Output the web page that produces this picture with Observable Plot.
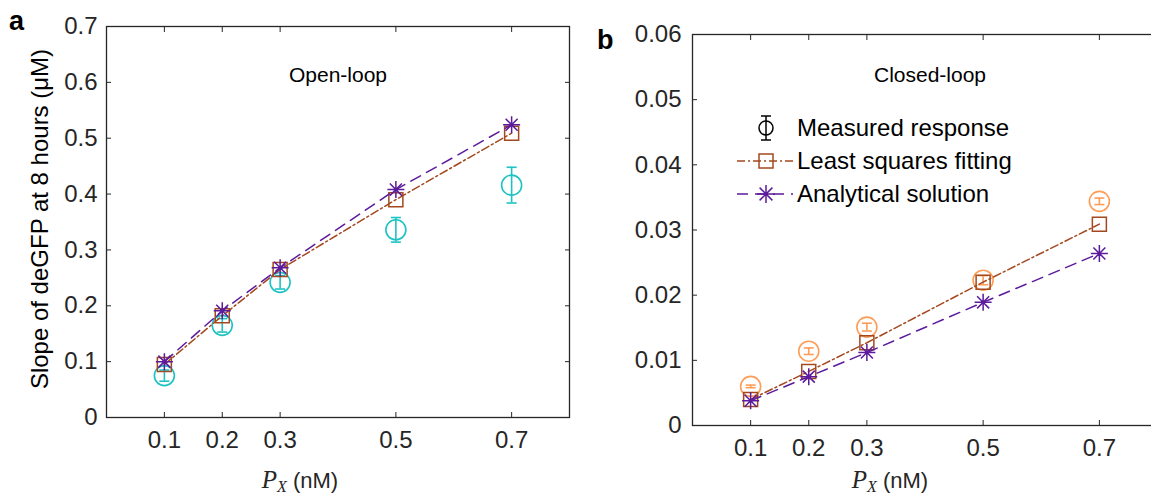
<!DOCTYPE html>
<html><head><meta charset="utf-8">
<script src="https://cdn.jsdelivr.net/npm/d3@7"></script>
<script src="https://cdn.jsdelivr.net/npm/@observablehq/plot@0.6"></script>
<style>
body{margin:0;background:#fff;}
#fig{position:relative;width:1151px;height:495px;overflow:hidden;font-family:"Liberation Sans",Arial,sans-serif;color:#262626}
#fig svg{position:absolute;top:0}
.abs{position:absolute;white-space:nowrap}
.xl{font-size:22px;text-align:center;width:200px}
.xl .p{font-family:"Liberation Serif","DejaVu Serif",serif;font-style:italic;font-size:25px}
.xl sub{font-family:"Liberation Serif","DejaVu Serif",serif;font-style:italic;font-size:16px;vertical-align:-4px}
.lab{font-weight:bold;font-size:27px;color:#000;line-height:1}
.leg{font-size:24px;color:#000}
</style></head><body><div id="fig"></div>
<script>
// ---- data ----
const px = [0.1, 0.2, 0.3, 0.5, 0.7];
const xTicks = [0.1, 0.2, 0.3, 0.5, 0.7];
const openMeasured = [0.075, 0.165, 0.242, 0.336, 0.416];
const openMeasuredErr = [0.010, 0.012, 0.012, 0.022, 0.032];
const openFit = [0.095, 0.182, 0.265, 0.390, 0.509];
const openAnalytical = [0.100, 0.191, 0.268, 0.408, 0.524];
const closedMeasured = [0.0060, 0.0114, 0.0151, 0.0223, 0.0344];
const closedMeasuredErr = [0.0002, 0.0005, 0.0006, 0.0007, 0.0005];
const closedFit = [0.0040, 0.0083, 0.0127, 0.0220, 0.0309];
const closedAnalytical = [0.0038, 0.0075, 0.0112, 0.0189, 0.0264];
const yTicksOpen = [0, 0.1, 0.2, 0.3, 0.4, 0.5, 0.6, 0.7];
const yTicksClosed = [0, 0.01, 0.02, 0.03, 0.04, 0.05, 0.06];
const legendLabels = ["Measured response", "Least squares fitting", "Analytical solution"];

const brown = "#a3481f";
const purple = "#5c1a9c";
const cyan = "#1dc2c4";
const orange = "#fd9d58";
const axisColor = "#262626";

const capSym = {draw(ctx, size) { const r = Math.sqrt(size / Math.PI); ctx.moveTo(-r, 0); ctx.lineTo(r, 0); }};
const starSym = {draw(ctx, size) {
  const r = Math.sqrt(size / Math.PI), d = r * Math.SQRT1_2;
  ctx.moveTo(-r, 0); ctx.lineTo(r, 0); ctx.moveTo(0, -r); ctx.lineTo(0, r);
  ctx.moveTo(-d, -d); ctx.lineTo(d, d); ctx.moveTo(-d, d); ctx.lineTo(d, -d);
}};

function panel({measured, err, fit, ana, yDomain, yTicks, measColor, width, margins, title, titleDx, titleDy, yPad}) {
  const data = px.map((x, i) => ({x, m: measured[i], lo: measured[i] - err[i], hi: measured[i] + err[i], f: fit[i], a: ana[i]}));
  const blank = () => "";
  return Plot.plot({
    width, height: 495, ...margins,
    x: {domain: [0, 0.8], axis: null},
    y: {domain: yDomain, axis: null},
    style: {fontFamily: '"Liberation Sans", Arial, sans-serif', color: axisColor, background: "transparent", overflow: "visible"},
    marks: [
      Plot.ruleX(data, {x: "x", y1: "lo", y2: "hi", stroke: measColor, strokeWidth: 1.6}),
      Plot.dot(data, {x: "x", y: "lo", symbol: capSym, r: 5, stroke: measColor, strokeWidth: 1.6}),
      Plot.dot(data, {x: "x", y: "hi", symbol: capSym, r: 5, stroke: measColor, strokeWidth: 1.6}),
      Plot.dot(data, {x: "x", y: "m", r: 10, stroke: measColor, strokeWidth: 1.6}),
      Plot.line(data, {x: "x", y: "f", stroke: brown, strokeWidth: 1.5, strokeDasharray: "8,3,2,3"}),
      Plot.dot(data, {x: "x", y: "f", symbol: "square", r: 7.9, stroke: brown, strokeWidth: 1.5}),
      Plot.line(data, {x: "x", y: "a", stroke: purple, strokeWidth: 1.5, strokeDasharray: "11,7"}),
      Plot.dot(data, {x: "x", y: "a", symbol: starSym, r: 8.5, stroke: purple, strokeWidth: 1.5}),
      Plot.frame({stroke: axisColor, strokeWidth: 1.3}),
      Plot.axisX({ticks: xTicks, tickSize: 0, tickPadding: 13, tickFormat: d => String(d), label: null, fontSize: 24}),
      Plot.axisX({ticks: xTicks, tickSize: -5, tickFormat: blank, label: null}),
      Plot.axisX({anchor: "top", ticks: xTicks, tickSize: -5, tickFormat: blank, label: null}),
      Plot.axisY({ticks: yTicks, tickSize: 0, tickPadding: yPad, tickFormat: d => String(d), label: null, fontSize: 24}),
      Plot.axisY({ticks: yTicks, tickSize: -5, tickFormat: blank, label: null}),
      Plot.axisY({anchor: "right", ticks: yTicks, tickSize: -5, tickFormat: blank, label: null}),
      Plot.text([title], {frameAnchor: "top", lineAnchor: "middle", dx: titleDx, dy: titleDy, fontSize: 21, fill: "#000", text: d => d})
    ]
  });
}

const fig = document.getElementById("fig");
const a = panel({measured: openMeasured, err: openMeasuredErr, fit: openFit, ana: openAnalytical,
  yDomain: [0, 0.7], yTicks: yTicksOpen, measColor: cyan, width: 590,
  margins: {marginLeft: 106, marginRight: 21, marginTop: 26, marginBottom: 78},
  title: "Open-loop", titleDx: 0, titleDy: 49, yPad: 9});
a.style.left = "0px";
fig.appendChild(a);
const b = panel({measured: closedMeasured, err: closedMeasuredErr, fit: closedFit, ana: closedAnalytical,
  yDomain: [0, 0.06], yTicks: yTicksClosed, measColor: orange, width: 575,
  margins: {marginLeft: 102, marginRight: 8, marginTop: 34, marginBottom: 70},
  title: "Closed-loop", titleDx: 5, titleDy: 41, yPad: 11});
b.style.left = "590px";
fig.appendChild(b);

function addDiv(html, cls, style) {
  const d = document.createElement("div");
  d.className = "abs " + cls; d.innerHTML = html; Object.assign(d.style, style); fig.appendChild(d); return d;
}
addDiv("a", "lab", {left: "9px", top: "8px"});
addDiv("b", "lab", {left: "597px", top: "27px"});
addDiv('<span class="p">P</span><sub>X</sub> (nM)', "xl", {left: "200px", top: "466px"});
addDiv('<span class="p">P</span><sub>X</sub> (nM)', "xl", {left: "790px", top: "466px"});
addDiv("Slope of deGFP at 8 hours (μM)", "", {left: "40px", top: "219px", fontSize: "24px", color: "#000",
  transform: "translate(-50%,-50%) rotate(-90deg)"});

// legend
const legRows = [128, 161, 194];
const svgNS = "http://www.w3.org/2000/svg";
const lg = document.createElementNS(svgNS, "svg");
lg.setAttribute("width", 70); lg.setAttribute("height", 110);
Object.assign(lg.style, {left: "730px", top: "100px"});
lg.innerHTML = `
 <g stroke="#000" stroke-width="1.5" fill="none">
  <line x1="36" x2="36" y1="${legRows[0]-100-12}" y2="${legRows[0]-100+12}"/>
  <line x1="31" x2="41" y1="${legRows[0]-100-12}" y2="${legRows[0]-100-12}"/>
  <line x1="31" x2="41" y1="${legRows[0]-100+12}" y2="${legRows[0]-100+12}"/>
  <circle cx="36" cy="${legRows[0]-100}" r="7"/>
 </g>
 <g stroke="${brown}" stroke-width="1.5" fill="none">
  <line x1="7" x2="63" y1="${legRows[1]-100}" y2="${legRows[1]-100}" stroke-dasharray="8,3,2,3"/>
  <rect x="29" y="${legRows[1]-100-7}" width="14" height="14" fill="none"/>
 </g>
 <g stroke="${purple}" stroke-width="1.5" fill="none">
  <line x1="7" x2="63" y1="${legRows[2]-100}" y2="${legRows[2]-100}" stroke-dasharray="11,7"/>
  <path transform="translate(36,${legRows[2]-100})" d="M-9,0H9M0,-9V9M-6.4,-6.4L6.4,6.4M-6.4,6.4L6.4,-6.4"/>
 </g>`;
fig.appendChild(lg);
legendLabels.forEach((t, i) => addDiv(t, "leg", {left: "797px", top: (legRows[i] - 14) + "px"}));
</script></body></html>
